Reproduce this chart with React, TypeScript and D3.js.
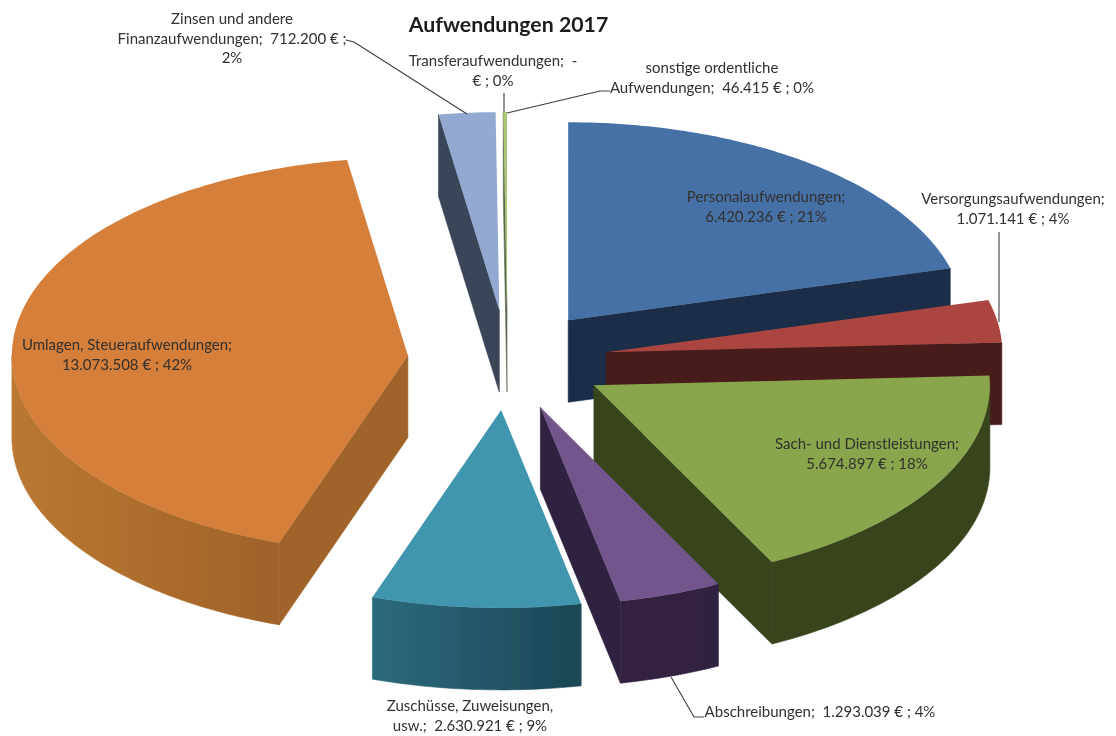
import React from "react";
import * as d3 from "d3";

const categories = [
  "Personalaufwendungen",
  "Versorgungsaufwendungen",
  "Sach- und Dienstleistungen",
  "Abschreibungen",
  "Zuschüsse, Zuweisungen, usw.",
  "Umlagen, Steueraufwendungen",
  "Zinsen und andere Finanzaufwendungen",
  "Transferaufwendungen",
  "sonstige ordentliche Aufwendungen",
];
const values = [6420236, 1071141, 5674897, 1293039, 2630921, 13073508, 712200, 0, 46415];
const topColors = ["#4571a6", "#aa4541", "#89a64e", "#71558c", "#4096ae", "#d67f3a", "#93a9d2", "#93a9d2", "#a9c877"];
const wallColors = ["#1b2f47", "#491b1a", "#38451d", "#2f2240", "#1d4a57", "#a0632a", "#3a4559", "#3a4559", "#59684a"];
const rimLeftColors = ["#1b2f47", "#491b1a", "#38451d", "#33243f", "#2b6a7c", "#bb7831", "#3a4559", "#3a4559", "#59684a"];
const rimRightColors = ["#1b2f47", "#491b1a", "#38451d", "#2f2040", "#1c4655", "#9f6229", "#3a4559", "#3a4559", "#59684a"];

const titleText = "Aufwendungen 2017";
const dataLabels: { lines: string[]; x: number; y: number }[] = [
  { lines: ["Personalaufwendungen;", "6.420.236 € ; 21%"], x: 766, y: 202 },
  { lines: ["Versorgungsaufwendungen;", "1.071.141 € ; 4%"], x: 1013, y: 204 },
  { lines: ["Sach- und Dienstleistungen;", "5.674.897 € ; 18%"], x: 867, y: 449 },
  { lines: ["Abschreibungen;  1.293.039 € ; 4%"], x: 820, y: 717 },
  { lines: ["Zuschüsse, Zuweisungen,", "usw.;  2.630.921 € ; 9%"], x: 470, y: 711 },
  { lines: ["Umlagen, Steueraufwendungen;", "13.073.508 € ; 42%"], x: 127, y: 350 },
  { lines: ["Zinsen und andere", "Finanzaufwendungen;  712.200 € ;", "2%"], x: 232, y: 24 },
  { lines: ["Transferaufwendungen;  -", "€ ; 0%"], x: 493, y: 66 },
  { lines: ["sonstige ordentliche", "Aufwendungen;  46.415 € ; 0%"], x: 712, y: 73 },
];
const leaderLines: [number, number][][] = [
  [[346, 40], [354, 42], [467, 114]],
  [[504, 93], [504, 112]],
  [[610, 91], [600, 91], [507, 113]],
  [[999, 232], [999, 322]],
  [[671, 677], [694, 717], [704, 717]],
];

const cx = 507.5;
const cy = 360;
const rx = 396;
const ry = 198;
const explode = 100;
const depth = 82;

const xOff = d3.scaleLinear().domain([-1, 1]).range([-rx, rx]);
const yOff = d3.scaleLinear().domain([-1, 1]).range([ry, -ry]);
const explodeX = d3.scaleLinear().domain([-1, 1]).range([-explode, explode]);
const explodeY = d3.scaleLinear().domain([-1, 1]).range([(explode * ry) / rx, (-explode * ry) / rx]);

const lineGen = d3.line<[number, number]>().x((d) => d[0]).y((d) => d[1]);

type Arc = d3.PieArcDatum<number>;

const arcs: Arc[] = d3.pie<number>().sort(null).startAngle(0).endAngle(2 * Math.PI)(values);

function arcPoints(a: number, b: number, ax: number, ay: number, dy = 0): [number, number][] {
  const n = Math.max(2, Math.ceil(((b - a) * 180) / Math.PI));
  return d3.range(n + 1).map((i) => {
    const t = a + ((b - a) * i) / n;
    return [ax + xOff(Math.sin(t)), ay + yOff(Math.cos(t)) + dy] as [number, number];
  });
}

function Slice({ arc }: { arc: Arc }) {
  const i = arc.index;
  const mid = (arc.startAngle + arc.endAngle) / 2;
  const ax = cx + explodeX(Math.sin(mid));
  const ay = cy + explodeY(Math.cos(mid));
  const top = arcPoints(arc.startAngle, arc.endAngle, ax, ay);
  const topPath = lineGen([[ax, ay], ...top])! + "Z";

  const wall = (t: number) => {
    const px = ax + xOff(Math.sin(t));
    const py = ay + yOff(Math.cos(t));
    return lineGen([[ax, ay], [px, py], [px, py + depth], [ax, ay + depth]])! + "Z";
  };
  const startVisible = Math.sin(arc.startAngle) < 0;
  const endVisible = Math.sin(arc.endAngle) > 0;

  const rimA = Math.max(arc.startAngle, Math.PI / 2);
  const rimB = Math.min(arc.endAngle, (3 * Math.PI) / 2);
  let rimPath: string | null = null;
  if (rimB > rimA) {
    const upper = arcPoints(rimA, rimB, ax, ay);
    const lower = arcPoints(rimA, rimB, ax, ay, depth).reverse();
    rimPath = lineGen([...upper, ...lower])! + "Z";
  }
  return (
    <g>
      {startVisible && <path d={wall(arc.startAngle)} fill={wallColors[i]} stroke={wallColors[i]} strokeWidth={0.6} />}
      {endVisible && <path d={wall(arc.endAngle)} fill={wallColors[i]} stroke={wallColors[i]} strokeWidth={0.6} />}
      {rimPath && <path d={rimPath} fill={`url(#rim${i})`} stroke={`url(#rim${i})`} strokeWidth={0.6} />}
      <path d={topPath} fill={topColors[i]} />
    </g>
  );
}

export default function App() {
  const order = arcs
    .filter((a) => a.value > 0)
    .slice()
    .sort((a, b) => {
      const ma = (a.startAngle + a.endAngle) / 2;
      const mb = (b.startAngle + b.endAngle) / 2;
      return d3.descending(Math.cos(ma), Math.cos(mb));
    });
  return (
    <svg
      width={1116}
      height={736}
      viewBox="0 0 1116 736"
      style={{ position: "absolute", left: 0, top: 0, background: "#fff" }}
    >
      <defs>
        <filter id="soft" x="0" y="0" width="100%" height="100%">
          <feGaussianBlur stdDeviation="0.45" />
        </filter>
        {categories.map((_, i) => (
          <linearGradient key={i} id={`rim${i}`} x1="0" x2="1" y1="0" y2="0">
            <stop offset="0" stopColor={rimLeftColors[i]} />
            <stop offset="1" stopColor={rimRightColors[i]} />
          </linearGradient>
        ))}
      </defs>
      <g filter="url(#soft)">
        {order.map((a) => (
          <Slice key={a.index} arc={a} />
        ))}
        {leaderLines.map((pts, i) => (
          <path key={i} d={lineGen(pts)!} fill="none" stroke="#3c3c3c" strokeWidth={1.1} />
        ))}
        <text
          x={508.5}
          y={32}
          textAnchor="middle"
          fontFamily="Lato, 'Open Sans', sans-serif"
          fontWeight={700}
          fontSize={21.3}
          fill="#1c1c1c"
        >
          {titleText}
        </text>
        {dataLabels.map((l, i) => (
          <text
            key={i}
            textAnchor="middle"
            fontFamily="Lato, 'Open Sans', sans-serif"
            fontSize={15}
            fill="#33302e"
            xmlSpace="preserve"
            style={{ whiteSpace: "pre" }}
          >
            {l.lines.map((s, j) => (
              <tspan key={j} x={l.x} y={l.y + j * 19.7}>
                {s}
              </tspan>
            ))}
          </text>
        ))}
      </g>
    </svg>
  );
}
